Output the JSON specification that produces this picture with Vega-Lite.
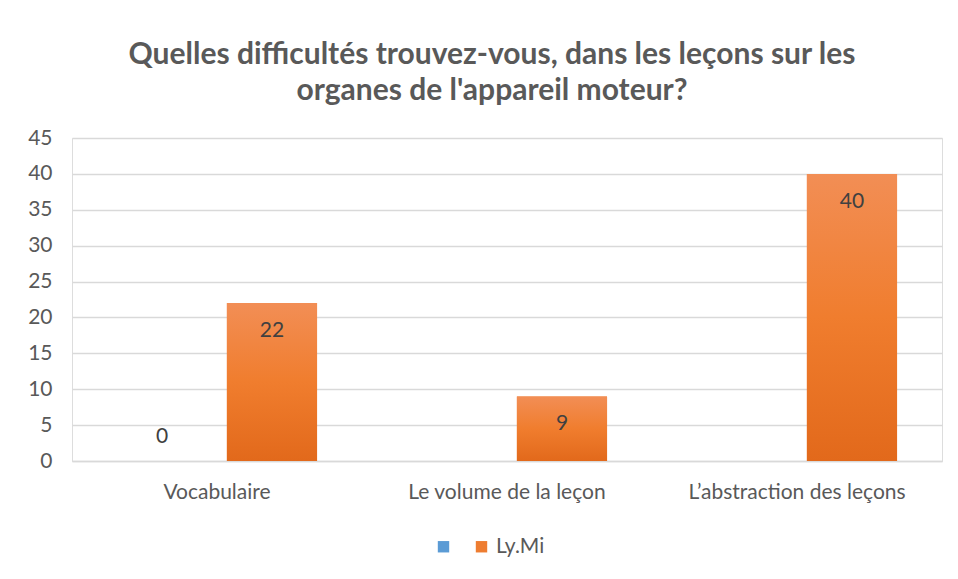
{
  "$schema": "https://vega.github.io/schema/vega-lite/v6.json",
  "width": 870,
  "height": 323,
  "autosize": {"type": "none"},
  "padding": {"left": 72, "top": 138, "right": 16, "bottom": 118},
  "background": "white",
  "title": {
    "text": ["Quelles difficultés trouvez-vous, dans les leçons sur les", "organes de l'appareil moteur?"],
    "font": "Lato",
    "fontSize": 30,
    "fontWeight": "bold",
    "color": "#595959",
    "lineHeight": 36,
    "anchor": "middle",
    "offset": 21,
    "dx": -15
  },
  "data": {
    "values": [
      {"category": "Vocabulaire", "series": "S1", "value": 0},
      {"category": "Vocabulaire", "series": "Ly.Mi", "value": 22},
      {"category": "Le volume de la leçon", "series": "Ly.Mi", "value": 9},
      {"category": "L’abstraction des leçons", "series": "Ly.Mi", "value": 40}
    ]
  },
  "encoding": {
    "x": {
      "field": "category",
      "type": "nominal",
      "sort": ["Vocabulaire", "Le volume de la leçon", "L’abstraction des leçons"],
      "scale": {"paddingInner": 0.31, "paddingOuter": 0.155},
      "axis": {
        "title": null,
        "labelAngle": 0,
        "labelFont": "Lato",
        "labelFontSize": 21,
        "labelLimit": 0,
        "labelColor": "#595959",
        "labelPadding": 20,
        "ticks": false,
        "domainColor": "#D9D9D9",
        "domainWidth": 1.5
      }
    },
    "xOffset": {
      "field": "series",
      "type": "nominal",
      "sort": ["S1", "Ly.Mi"],
      "scale": {"paddingInner": 0.18}
    },
    "y": {
      "field": "value",
      "type": "quantitative",
      "scale": {"domain": [0, 45], "nice": false},
      "axis": {
        "title": null,
        "values": [0, 5, 10, 15, 20, 25, 30, 35, 40, 45],
        "labelFont": "Lato",
        "labelFontSize": 21,
        "labelColor": "#595959",
        "labelPadding": 20,
        "ticks": false,
        "domain": false,
        "gridColor": "#D9D9D9",
        "gridWidth": 1.5
      }
    }
  },
  "layer": [
    {
      "mark": {"type": "bar"},
      "encoding": {
        "color": {
          "field": "series",
          "type": "nominal",
          "sort": ["S1", "Ly.Mi"],
          "scale": {"domain": ["S1", "Ly.Mi"], "range": ["#5B9BD5", "#EE7D31"]},
          "legend": {
            "title": null,
            "orient": "none",
            "legendX": 361,
            "legendY": 398,
            "padding": 0,
            "direction": "horizontal",
            "symbolType": "square",
            "symbolSize": 130,
            "labelFont": "Lato",
            "labelFontSize": 21,
            "labelColor": "#595959",
            "labelExpr": "datum.label == 'S1' ? '' : datum.label",
            "columnPadding": 13
          }
        }
      }
    },
    {
      "transform": [{"filter": "datum.series == 'Ly.Mi'"}],
      "mark": {
        "type": "bar",
        "fill": {
          "gradient": "linear",
          "x1": 0, "y1": 0, "x2": 0, "y2": 1,
          "stops": [
            {"offset": 0, "color": "#F28E55"},
            {"offset": 0.5, "color": "#F07D2E"},
            {"offset": 1, "color": "#E2691B"}
          ]
        }
      }
    },
    {
      "transform": [{"filter": "datum.value > 0"}],
      "mark": {"type": "text", "baseline": "middle", "dy": 28, "font": "Lato", "fontSize": 21, "color": "#404040"},
      "encoding": {"text": {"field": "value", "type": "quantitative"}}
    },
    {
      "transform": [{"filter": "datum.value == 0"}],
      "mark": {"type": "text", "baseline": "middle", "dy": -24, "font": "Lato", "fontSize": 21, "color": "#404040"},
      "encoding": {"text": {"field": "value", "type": "quantitative"}}
    }
  ]
}
